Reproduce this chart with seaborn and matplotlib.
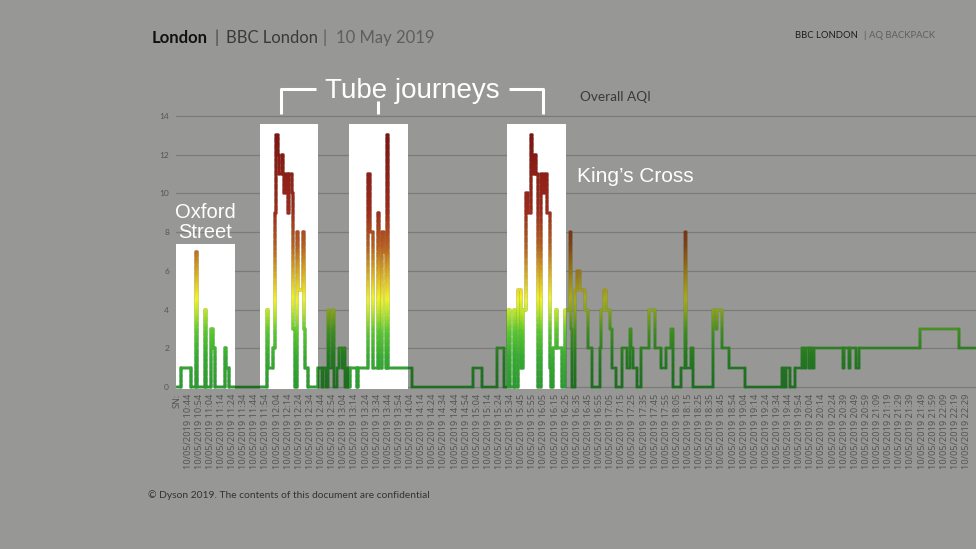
import numpy as np
import pandas as pd
import matplotlib
matplotlib.use("Agg")
import matplotlib.pyplot as plt
import seaborn as sns
from matplotlib.collections import LineCollection
from matplotlib.colors import LinearSegmentedColormap, Normalize

# ---------------- data ----------------
# sample index (one sample per minute) at which the AQI value changes
change_sample = [0, 4, 13, 17, 18, 25, 26, 31, 32, 34, 43, 44, 47,
                 81, 82, 86, 88, 89, 91, 92, 94, 95, 96, 98, 100, 101, 103, 104, 106, 108, 109, 113, 114, 115, 118,
                 127, 130, 131, 134, 136, 137, 139, 141, 144, 146, 148, 150, 151, 153, 154, 156, 162, 163,
                 172, 174, 176, 181, 182, 184, 186, 188, 189, 190, 211,
                 266, 274, 288, 294, 298, 299, 303, 304, 307, 309, 311, 314, 316, 318, 319, 320, 322, 323,
                 325, 327, 329, 331, 333, 335, 336, 338, 341, 342, 346, 349, 353, 354, 355, 358, 360, 362,
                 367, 370, 373, 380, 381, 384, 386, 389, 391, 395, 400, 405, 407, 408, 410, 414, 417, 424,
                 430, 435, 440, 444, 446, 453, 457, 458, 462, 464, 482, 485, 486, 490, 496, 511,
                 544, 546, 548, 551, 556, 562, 564, 566, 568, 569, 571, 573, 599, 600, 604, 605, 611, 613,
                 668, 703, 718]
aqi_value = [0, 1, 0, 7, 0, 4, 0, 3, 2, 0, 2, 1, 0,
             4, 1, 2, 9, 13, 12, 11, 12, 11, 10, 11, 9, 11, 10, 3, 0, 8, 5, 8, 3, 1, 0,
             1, 0, 1, 0, 4, 1, 4, 0, 1, 2, 1, 2, 0, 1, 0, 1, 0, 1,
             11, 8, 1, 9, 1, 8, 7, 1, 13, 1, 0,
             1, 0, 2, 0, 4, 0, 4, 0, 5, 1, 4, 10, 9, 13, 12, 11, 12, 11,
             0, 11, 10, 11, 9, 1, 0, 2, 4, 2, 0, 4, 8, 3, 0, 5, 6, 5,
             4, 2, 0, 2, 4, 5, 4, 3, 1, 0, 2, 1, 3, 2, 1, 0, 2, 4,
             2, 1, 2, 3, 0, 1, 8, 1, 2, 0, 4, 3, 4, 2, 1, 0,
             1, 0, 1, 0, 1, 2, 1, 2, 1, 2, 1, 2, 1, 2, 1, 2, 1, 2,
             3, 2, 2]

tick_times = ["10:44", "10:54", "11:04", "11:14", "11:24", "11:34", "11:44", "11:54",
              "12:04", "12:14", "12:24", "12:34", "12:44", "12:54", "13:04", "13:14",
              "13:24", "13:34", "13:44", "13:54", "14:04", "14:14", "14:24", "14:34",
              "14:44", "14:54", "15:04", "15:14", "15:24", "15:34", "15:45", "15:55",
              "16:05", "16:15", "16:25", "16:35", "16:45", "16:55", "17:05", "17:15",
              "17:25", "17:35", "17:45", "17:55", "18:05", "18:15", "18:25", "18:35",
              "18:45", "18:54", "19:04", "19:14", "19:24", "19:34", "19:44", "19:54",
              "20:04", "20:14", "20:24", "20:39", "20:49", "20:59", "21:09", "21:19",
              "21:29", "21:39", "21:49", "21:59", "22:09", "22:19", "22:29"]
tick_labels = ["SN:"] + ["10/05/2019 " + t for t in tick_times]
y_ticks = [0, 2, 4, 6, 8, 10, 12, 14]

# highlighted periods: (label, start sample, end sample, height)
highlight_spans = [("Oxford Street", -0.9, 52.2, 7.39),
                   ("Tube 1", 74.6, 126.8, 13.59),
                   ("Tube 2", 154.7, 207.7, 13.59),
                   ("King's Cross", 296.8, 349.8, 13.59)]

# ---------------- style ----------------
BG = "#979896"
GRID = "#7b7c7a"
sns.set_style("white")
plt.rcParams["font.family"] = ["Lato", "DejaVu Sans"]

W, H = 976, 549
fig = plt.figure(figsize=(W / 100, H / 100), dpi=100, facecolor=BG)
ymin, ymax = -0.2, 14.2
ax = fig.add_axes([176 / W, 1 - 390.87 / H, 800 / W, (390.87 - 112.13) / H])
ax.set_facecolor(BG)

df = pd.DataFrame({"sample": change_sample, "aqi": aqi_value})

# white highlight boxes
rects = []
for _, x0, x1, hgt in highlight_spans:
    r = plt.Rectangle((x0, -0.12), x1 - x0, hgt + 0.12, facecolor="white",
                      edgecolor="none", zorder=1)
    ax.add_patch(r)
    rects.append(r)

LW = 1.7
# base step line via seaborn
sns.lineplot(data=df, x="sample", y="aqi", drawstyle="steps-post", estimator=None,
             color="#2a7a2a", linewidth=LW, ax=ax, zorder=2)

# gradient colouring by AQI level
cmap = LinearSegmentedColormap.from_list("aqi", [
    (0.00, "#2c9a30"), (0.12, "#36ac30"), (0.22, "#5cc82e"), (0.30, "#bfe626"),
    (0.35, "#f2f222"), (0.46, "#d8a420"), (0.56, "#b85e20"), (0.70, "#9e2a1c"),
    (1.00, "#7e1414")])
norm = Normalize(0, 13)
xs = np.repeat(df["sample"].to_numpy(float), 2)[1:]
ys = np.repeat(df["aqi"].to_numpy(float), 2)[:-1]
segs, cols = [], []
for i in range(len(xs) - 1):
    xa, ya, xb, yb = xs[i], ys[i], xs[i + 1], ys[i + 1]
    if ya == yb:
        segs.append([(xa, ya), (xb, yb)])
        cols.append(cmap(norm(ya)))
    else:
        n = max(2, int(abs(yb - ya) / 0.12))
        yy = np.linspace(ya, yb, n + 1)
        for k in range(n):
            segs.append([(xa, yy[k]), (xa, yy[k + 1])])
            cols.append(cmap(norm((yy[k] + yy[k + 1]) / 2)))
cols = np.array(cols)
dark = cols.copy()
dark[:, :3] *= 0.70
lc_dark = LineCollection(segs, colors=dark, linewidths=LW, capstyle="projecting", zorder=3)
ax.add_collection(lc_dark)
for r in rects:
    lc = LineCollection(segs, colors=cols, linewidths=LW, capstyle="projecting", zorder=4)
    ax.add_collection(lc)
    lc.set_clip_path(r)

ax.set_xlim(-0.9, 718.5)
ax.set_ylim(ymin, ymax)
ax.set_yticks(y_ticks)
ax.set_yticklabels([str(v) for v in y_ticks])
ax.set_xticks(np.arange(len(tick_labels)) * 10)
ax.set_xticklabels(tick_labels, rotation=90)
ax.tick_params(axis="x", length=0, pad=2, labelsize=6.6, labelcolor="#555555")
ax.tick_params(axis="y", length=0, pad=5, labelsize=6.0, labelcolor="#555555")
for lab in ax.get_xticklabels():
    lab.set_fontfamily(["Noto Sans", "DejaVu Sans"])
ax.set_xlabel("")
ax.set_ylabel("")
ax.yaxis.grid(True, color=GRID, linewidth=0.9)
ax.xaxis.grid(False)
ax.set_axisbelow(True)
for s in ax.spines.values():
    s.set_visible(False)

# ---------------- annotations in data coordinates ----------------
ann_font = ["Liberation Sans", "DejaVu Sans"]
ax.text(25.2, 8.71, "Oxford", color="white", fontsize=14.5, ha="center", va="baseline",
        family=ann_font, clip_on=False, zorder=5)
ax.text(25.2, 7.71, "Street", color="white", fontsize=14.5, ha="center", va="baseline",
        family=ann_font, clip_on=False, zorder=5)
ax.text(359.4, 10.61, "King\u2019s Cross", color="white", fontsize=15, ha="left",
        va="baseline", family=ann_font, clip_on=False, zorder=5)
ax.text(211.3, 14.93, "Tube journeys", color="white", fontsize=20, ha="center",
        va="baseline", family=ann_font, clip_on=False, zorder=5)
ax.text(362.4, 14.78, "Overall AQI", color="#3a3a3a", fontsize=9.8, ha="left",
        va="baseline", clip_on=False, zorder=5)

bk = dict(color="white", linewidth=2.2, clip_on=False, zorder=5, solid_capstyle="butt")
ax.plot([93.5, 93.5, 125.0], [14.10, 15.39, 15.39], **bk)
ax.plot([180.8, 180.8], [14.10, 14.78], **bk)
ax.plot([298.6, 329.1, 329.1], [15.39, 15.39, 14.10], **bk)

# ---------------- header / footer (figure pixels) ----------------
def fx(x):
    return x / W

def fy(y):
    return 1 - y / H

fig.text(fx(152), fy(43), "London", color="#111111", fontsize=12, fontweight="bold",
         va="baseline")
fig.text(fx(215), fy(43), "|", color="#444444", fontsize=12, va="baseline")
fig.text(fx(226), fy(43), "BBC London", color="#3a3a3a", fontsize=12, va="baseline")
fig.text(fx(323), fy(43), "|", color="#5a5a5a", fontsize=12, va="baseline")
fig.text(fx(336), fy(43), "10 May 2019", color="#5e5e5e", fontsize=12, va="baseline")

fig.text(fx(795), fy(37.5), "BBC LONDON", color="#1e1e1e", fontsize=6.8, va="baseline")
fig.text(fx(863), fy(37.5), "|", color="#555555", fontsize=6.8, va="baseline")
fig.text(fx(869), fy(37.5), "AQ BACKPACK", color="#5e5e5e", fontsize=6.8, va="baseline")

fig.text(fx(148), fy(498), "\u00a9 Dyson 2019. The contents of this document are confidential",
         color="#333333", fontsize=7.4, va="baseline")

fig.savefig("out.png", dpi=100, facecolor=BG)
